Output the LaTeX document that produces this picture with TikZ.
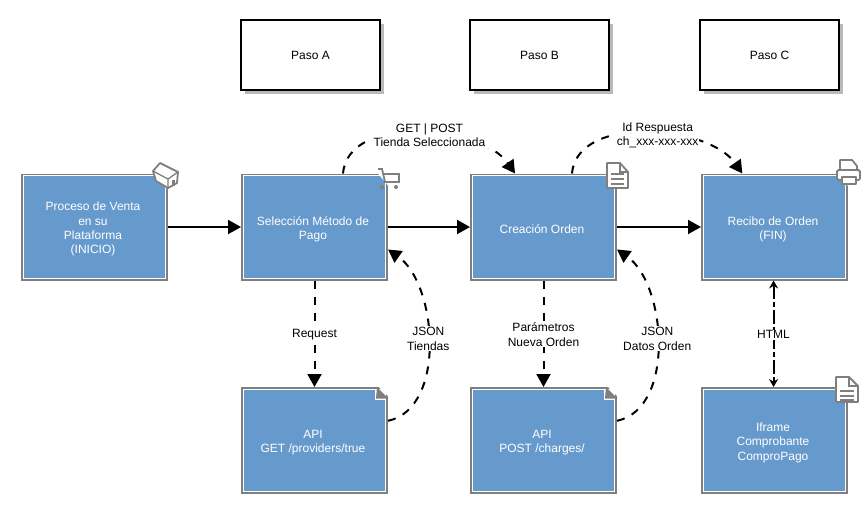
\documentclass[tikz,border=0pt]{standalone}
\usepackage{fontspec}
\setmainfont{Liberation Sans}
\usetikzlibrary{arrows.meta,positioning,shadows}

\definecolor{boxblue}{HTML}{6699CC}
\definecolor{boxgray}{HTML}{7F7F7F}
\newcommand{\up}{\rule{0pt}{13pt}}

\tikzset{
  box/.style={rectangle,fill=boxblue,draw=white,line width=1.2pt,outer sep=2.2pt,
    minimum width=142.6pt,minimum height=102.6pt,inner sep=0pt,align=center,
    text=white,font=\fontsize{12}{14.4}\selectfont,
    execute at end node={\hspace*{3pt}},
    preaction={draw=boxgray,line width=4.4pt}},
  pasobox/.style={rectangle,draw=black,line width=2pt,fill=white,minimum width=139pt,
    minimum height=70pt,font=\fontsize{12}{14.4}\selectfont,
    drop shadow={shadow xshift=4pt,shadow yshift=-4pt,fill=black!27,opacity=1}},
  lbl/.style={fill=white,inner sep=1pt,align=center,yshift=-1pt,font=\fontsize{12}{14.4}\selectfont},
  conn/.style={line width=2pt,-{Triangle[length=13pt,width=14pt]}},
  dconn/.style={conn,dash pattern=on 8pt off 8pt},
  icon/.style={draw=boxgray,line width=1.8pt,fill=white,line join=round},
  iconline/.style={draw=boxgray,line width=1.8pt},
  fold/.style={fill=boxgray}
}

\begin{document}
\begin{tikzpicture}[x=1pt,y=-1pt,node distance=73pt]
  \useasboundingbox (0,0) rectangle (866,515);

  \node[box] (venta) at (94.5,227) {\up Proceso de Venta\\en su\\Plataforma\\(INICIO)};
  \node[box] (seleccion) [right=of venta] {\up Selección Método de\\Pago};
  \node[box] (orden) [right=82pt of seleccion] {\up Creación Orden};
  \node[box] (recibo) [right=84pt of orden] {\up Recibo de Orden\\(FIN)};

  \node[box] (apiget) at (314.5,440.5) {\up API\\GET /providers/true};
  \node[box] (apipost) at (543.5,440.5) {\up API\\POST /charges/};
  \node[box] (iframe) at (774.5,440.5) {\up Iframe\\Comprobante\\ComproPago};

  \node[pasobox] (pasoa) at (310.5,55) {Paso A};
  \node[pasobox] (pasob) at (539.5,55) {Paso B};
  \node[pasobox] (pasoc) at (769.5,55) {Paso C};

  % folded corners
  \foreach \x in {0,229} {
    \fill[white] (\x+375,389) rectangle (\x+386,400);
    \fill[white] (\x+377,385) -- (\x+391,385) -- (\x+391,399) -- cycle;
    \fill[fold] (\x+377,387) -- (\x+388.5,398.5) -- (\x+376,398.5) -- cycle;
  }

  % corners cut for the icons
  \fill[white] (153,171) -- (170,171) -- (170,191) -- cycle;
  \fill[white] (376,171) -- (390,171) -- (390,188) -- cycle;
  \fill[white] (833,171) -- (850,171) -- (850,188) -- cycle;

  % icons
  \draw[icon] (153,171) -- (160,163) -- (178,172) -- (177,183) -- (168,188) -- (156,181) -- cycle;
  \draw[iconline,line width=1.3pt] (153,171) -- (168,179) -- (178,172) (168,179) -- (168,188);
  \fill[boxgray] (172,180) rectangle (175,186);

  \draw[iconline] (378,169) -- (382,169) -- (385,182) -- (399,182) -- (399,174) -- (383,174);
  \fill[boxgray] (382,187) circle (2) (396,187) circle (2);

  \draw[icon] (607,163) -- (620,163) -- (628,172) -- (628,188) -- (607,188) -- cycle;
  \draw[iconline,line width=1.3pt] (620,163) -- (620,172) -- (628,172);
  \foreach \y in {174,179,184} \draw[iconline,line width=1.4pt] (611,\y) -- (624,\y);

  \draw[icon] (840,160) -- (852,160) -- (857,166) -- (857,172) -- (840,172) -- cycle;
  \draw[icon,rounded corners=1.5pt] (837,170) -- (860,170) -- (860,180) -- (837,180) -- cycle;
  \draw[icon] (842,177) -- (856,177) -- (856,184) -- (842,184) -- cycle;

  \draw[icon] (836,377) -- (849,377) -- (858,386) -- (858,402) -- (836,402) -- cycle;
  \draw[iconline,line width=1.3pt] (849,377) -- (849,386) -- (858,386);
  \foreach \y in {391,396,400} \draw[iconline,line width=1.4pt] (840,\y) -- (854,\y);

  % straight flow
  \draw[conn] (venta) -- (seleccion);
  \draw[conn] (seleccion) -- (orden);
  \draw[conn] (orden) -- (recibo);

  \draw[dconn] (seleccion) -- node[lbl] {Request} (apiget);
  \draw[dconn] (orden) -- node[lbl] {Parámetros\\Nueva Orden} (apipost);
  \draw[line width=2pt,dash pattern=on 14pt off 3pt on 5pt off 3pt,{Stealth[length=8pt,width=9pt]}-{Stealth[length=8pt,width=9pt]}]
    (recibo.-91) -- node[lbl] {HTML} (iframe.91);

  % curved
  \draw[dconn] (seleccion.62) to[out=85,in=125,looseness=.9]
    node[lbl,pos=.55,yshift=-1pt,inner xsep=4pt] {GET | POST\\Tienda Seleccionada} (orden.118);
  \draw[dconn] (orden.62) to[out=85,in=125,looseness=.9]
    node[lbl,pos=.55,yshift=-1pt] {Id Respuesta\\ch\_xxx-xxx-xxx} (recibo.121);
  \draw[dconn] (apiget.15.5) to[out=12,in=-35,looseness=.9]
    node[lbl,pos=.525] {JSON\\Tiendas} (seleccion.-17.5);
  \draw[dconn] (apipost.15.5) to[out=12,in=-35,looseness=.9]
    node[lbl,pos=.525] {JSON\\Datos Orden} (orden.-17.5);
\end{tikzpicture}
\end{document}
